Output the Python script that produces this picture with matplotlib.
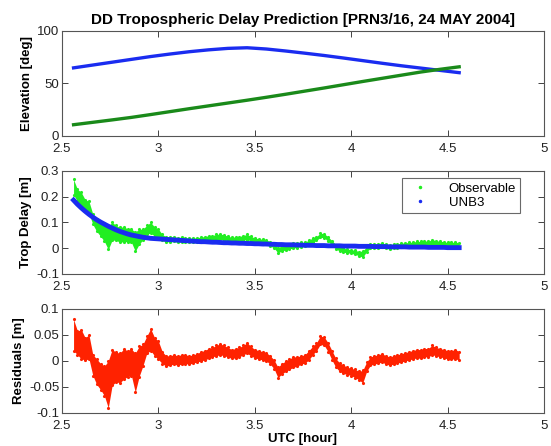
import matplotlib
matplotlib.use("Agg")
import matplotlib.pyplot as plt
import numpy as np

plt.rcParams['font.family'] = ['Liberation Sans', 'DejaVu Sans']

# elevation of the two satellites (read every 0.1 h)
elev_t = [2.56, 2.66, 2.76, 2.86, 2.96, 3.06, 3.16, 3.26, 3.36, 3.46, 3.56,
          3.66, 3.76, 3.86, 3.96, 4.06, 4.16, 4.26, 4.36, 4.46, 4.56]
elev_blue = [64.8, 67.5, 70.2, 72.9, 75.6, 78.0, 80.2, 82.0, 83.4, 84.0, 82.8,
             80.9, 78.8, 76.6, 74.2, 71.7, 69.2, 66.8, 64.6, 62.4, 60.2]
elev_green = [10.5, 12.8, 15.1, 17.5, 20.2, 23.0, 25.8, 28.5, 31.2, 33.9, 36.7,
              39.6, 42.6, 45.6, 48.7, 51.8, 54.8, 57.8, 60.8, 63.4, 65.8]

# delay data every 0.02 h
utc = [round(2.56 + 0.02 * i, 2) for i in range(101)]

unb3 = [0.186, 0.170, 0.156, 0.143, 0.131, 0.120, 0.110, 0.101, 0.093, 0.085,
        0.078, 0.071, 0.065, 0.060, 0.055, 0.051, 0.048, 0.045, 0.042, 0.040,
        0.038, 0.037, 0.036, 0.035, 0.034, 0.033, 0.032, 0.031, 0.030, 0.029,
        0.028, 0.027, 0.026, 0.025, 0.025, 0.024, 0.023, 0.023, 0.022, 0.021,
        0.021, 0.020, 0.020, 0.019, 0.019, 0.018, 0.018, 0.017, 0.017, 0.016,
        0.016, 0.015, 0.015, 0.014, 0.014, 0.013, 0.013, 0.013, 0.012, 0.012,
        0.011, 0.011, 0.011, 0.010, 0.010, 0.010, 0.009, 0.009, 0.009, 0.009,
        0.008, 0.008, 0.008, 0.008, 0.007, 0.007, 0.007, 0.007, 0.006, 0.006,
        0.006, 0.006, 0.005, 0.005, 0.005, 0.005, 0.005, 0.004, 0.004, 0.004,
        0.004, 0.004, 0.003, 0.003, 0.003, 0.003, 0.003, 0.002, 0.002, 0.002,
        0.002]

res_lo = [0.020, 0.012, 0.004, 0.002, 0.004, -0.028, -0.045, -0.055, -0.067, -0.090,
          -0.047, -0.040, -0.042, -0.035, -0.030, -0.028, -0.060, -0.030, -0.009, 0.015,
          0.020, 0.010, 0.003, -0.005, -0.010, -0.008, -0.006, -0.008, -0.006, -0.005,
          -0.006, -0.004, -0.002, 0.000, 0.002, 0.005, 0.008, 0.010, 0.012, 0.010,
          0.008, 0.005, 0.006, 0.008, 0.012, 0.015, 0.010, 0.006, 0.004, 0.002,
          0.000, -0.006, -0.015, -0.032, -0.025, -0.020, -0.016, -0.012, -0.010, -0.006,
          -0.004, 0.002, 0.012, 0.020, 0.032, 0.030, 0.018, 0.002, -0.012, -0.020,
          -0.024, -0.026, -0.028, -0.032, -0.036, -0.042, -0.020, -0.008, -0.006, -0.004,
          -0.002, -0.006, -0.008, -0.006, -0.004, -0.002, 0.000, 0.002, 0.004, 0.006,
          0.005, 0.008, 0.008, 0.012, 0.010, 0.008, 0.006, 0.004, 0.004, 0.004,
          0.002]
res_hi = [0.080, 0.058, 0.060, 0.045, 0.050, 0.012, 0.004, -0.005, -0.010, 0.000,
          0.022, 0.017, 0.015, 0.023, 0.020, 0.023, 0.015, 0.028, 0.032, 0.048,
          0.062, 0.045, 0.038, 0.018, 0.010, 0.010, 0.012, 0.010, 0.012, 0.012,
          0.010, 0.012, 0.014, 0.018, 0.020, 0.024, 0.026, 0.030, 0.033, 0.030,
          0.026, 0.022, 0.024, 0.026, 0.030, 0.035, 0.028, 0.022, 0.020, 0.018,
          0.016, 0.010, 0.002, -0.012, -0.005, 0.000, 0.004, 0.008, 0.008, 0.010,
          0.012, 0.020, 0.028, 0.035, 0.048, 0.046, 0.035, 0.020, 0.005, -0.004,
          -0.008, -0.012, -0.014, -0.016, -0.020, -0.018, -0.002, 0.008, 0.010, 0.012,
          0.014, 0.010, 0.008, 0.010, 0.012, 0.014, 0.016, 0.018, 0.020, 0.022,
          0.022, 0.024, 0.024, 0.030, 0.026, 0.024, 0.022, 0.020, 0.020, 0.022,
          0.018]

utc = np.array(utc)
unb3 = np.array(unb3)
res_lo = np.array(res_lo)
res_hi = np.array(res_hi)
obs_lo = unb3 + res_lo
obs_hi = unb3 + res_hi

RED = '#ff2200'
LIME = '#22ee22'
BLUE = '#1a2cf0'

fig = plt.figure(figsize=(5.51, 4.46), dpi=100)
ax1 = fig.add_axes([0.1125, 0.6957, 0.8748, 0.2348])
ax2 = fig.add_axes([0.1125, 0.3857, 0.8748, 0.2316])
ax3 = fig.add_axes([0.1125, 0.0740, 0.8748, 0.2332])


def style(ax, yt, ylabels):
    ax.set_xlim(2.5, 5)
    ax.set_xticks([2.5, 3, 3.5, 4, 4.5, 5])
    ax.set_xticklabels(['2.5', '3', '3.5', '4', '4.5', '5'])
    ax.set_ylim(yt[0], yt[-1])
    ax.set_yticks(yt)
    ax.set_yticklabels(ylabels)
    ax.tick_params(direction='in', top=True, right=True, labelsize=9.5,
                   length=4, width=0.6, pad=2, colors='#222222')
    ax.tick_params(axis='x', pad=5)
    for s in ax.spines.values():
        s.set_linewidth(0.8)
        s.set_color('#555555')


ax1.plot(elev_t, elev_blue, color=BLUE, lw=2.4)
ax1.plot(elev_t, elev_green, color='#1a8a1a', lw=2.4)
style(ax1, [0, 50, 100], ['0', '50', '100'])
ax1.set_ylabel('Elevation [deg]', fontsize=9.5, fontweight='bold', labelpad=3)
ax1.set_title('DD Tropospheric Delay Prediction [PRN3/16, 24 MAY 2004]',
              fontsize=11, fontweight='bold', pad=5)

ax2.fill_between(utc, obs_lo, obs_hi, color=LIME, lw=0)
ax2.plot(utc, obs_lo, '.', color=LIME, ms=2.5)
ax2.plot(utc, obs_hi, '.', color=LIME, ms=2.5)
ax2.plot(utc, unb3, color=BLUE, lw=3.5)
h_obs, = ax2.plot([], [], '.', color=LIME, ms=3, label='Observable')
h_unb, = ax2.plot([], [], '.', color=BLUE, ms=3, label='UNB3')
leg = ax2.legend(handles=[h_obs, h_unb], loc='upper right',
                 bbox_to_anchor=(0.95, 0.925), fontsize=9.5, frameon=True,
                 fancybox=False, edgecolor='#444444', handlelength=2.0,
                 borderpad=0.3, labelspacing=0.15, handletextpad=1.2,
                 borderaxespad=0.0)
leg.get_frame().set_linewidth(0.8)
style(ax2, [-0.1, 0, 0.1, 0.2, 0.3], ['-0.1', '0', '0.1', '0.2', '0.3'])
ax2.set_ylabel('Trop Delay [m]', fontsize=9.5, fontweight='bold', labelpad=3)

ax3.fill_between(utc, res_lo, res_hi, color=RED, lw=0)
ax3.plot(utc, res_lo, '.', color=RED, ms=2.5)
ax3.plot(utc, res_hi, '.', color=RED, ms=2.5)
style(ax3, [-0.1, -0.05, 0, 0.05, 0.1], ['-0.1', '-0.05', '0', '0.05', '0.1'])
ax3.set_ylabel('Residuals [m]', fontsize=9.5, fontweight='bold', labelpad=3)
ax3.set_xlabel('UTC [hour]', fontsize=9.5, fontweight='bold', labelpad=1)

fig.savefig('out.png', dpi=100)
